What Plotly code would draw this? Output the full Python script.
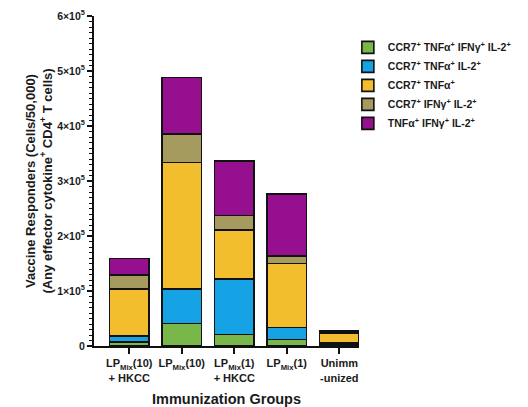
import plotly.graph_objects as go

categories = ["LP<sub>Mix</sub>(10)<br>+ HKCC", "LP<sub>Mix</sub>(10)", "LP<sub>Mix</sub>(1)<br>+ HKCC", "LP<sub>Mix</sub>(1)", "Unimm<br>-unized"]
series_names = [
    "CCR7<sup>+</sup> TNFα<sup>+</sup> IFNγ<sup>+</sup> IL-2<sup>+</sup>",
    "CCR7<sup>+</sup> TNFα<sup>+</sup> IL-2<sup>+</sup>",
    "CCR7<sup>+</sup> TNFα<sup>+</sup>",
    "CCR7<sup>+</sup> IFNγ<sup>+</sup> IL-2<sup>+</sup>",
    "TNFα<sup>+</sup> IFNγ<sup>+</sup> IL-2<sup>+</sup>",
]
ccr7_tnf_ifn_il2 = [7000, 41000, 21000, 12000, 2000]
ccr7_tnf_il2 = [11000, 63000, 101000, 22000, 3000]
ccr7_tnf = [86000, 230000, 89000, 116000, 19000]
ccr7_ifn_il2 = [25000, 51000, 26000, 14000, 1500]
tnf_ifn_il2 = [30000, 103000, 99000, 112000, 1500]
series_values = [ccr7_tnf_ifn_il2, ccr7_tnf_il2, ccr7_tnf, ccr7_ifn_il2, tnf_ifn_il2]
colors = ["#79B74A", "#16A3E6", "#F2BE2E", "#A59B5F", "#960F8E"]

ytick_vals = [0, 100000, 200000, 300000, 400000, 500000, 600000]
ytick_text = ["0", "1×10<sup>5</sup>", "2×10<sup>5</sup>", "3×10<sup>5</sup>", "4×10<sup>5</sup>", "5×10<sup>5</sup>", "6×10<sup>5</sup>"]

FONT = "Liberation Sans, Arial, sans-serif"

fig = go.Figure()
for i, (name, vals, col) in enumerate(zip(series_names, series_values, colors)):
    fig.add_trace(go.Bar(
        x=list(range(len(categories))), y=vals, name=name,
        marker=dict(color=col, line=dict(color="#111111", width=1.6)),
        width=0.75, legendgroup=f"g{i}",
    ))

fig.update_layout(
    barmode="stack",
    width=528, height=407,
    margin=dict(l=94, r=169, t=16, b=61, autoexpand=False),
    paper_bgcolor="white", plot_bgcolor="white",
    font=dict(family=FONT, color="#1a1a1a", size=10),
    showlegend=True,
    legend=dict(
        x=0.958, y=0.949, xanchor="left", yanchor="top",
        traceorder="normal", tracegroupgap=6,
        font=dict(family=FONT, size=10.5, color="#1a1a1a", weight="bold"),
        itemwidth=30,
    ),
    bargap=0.25,
)
fig.update_xaxes(
    range=[-0.67, 4.375], automargin=False,
    tickvals=list(range(len(categories))), ticktext=[f"<b>{c}</b>" for c in categories],
    showline=True, linecolor="#111111", linewidth=2,
    ticks="outside", ticklen=6, tickwidth=2, tickcolor="#111111",
    tickfont=dict(family=FONT, size=11, color="#1a1a1a"),
    showgrid=False, zeroline=False,
    title=dict(text="<b>Immunization Groups</b>", font=dict(family=FONT, size=14.5, color="#1a1a1a"), standoff=12),
)
fig.update_yaxes(
    range=[0, 600000], automargin=False,
    tickvals=ytick_vals, ticktext=[f"<b>{t}</b>" for t in ytick_text],
    showline=True, linecolor="#111111", linewidth=2,
    ticks="outside", ticklen=5, tickwidth=2, tickcolor="#111111",
    tickfont=dict(family=FONT, size=10.5, color="#1a1a1a"),
    minor=dict(dtick=10000, ticks="outside", ticklen=3, tickwidth=1.3, tickcolor="#111111", showgrid=False),
    showgrid=False, zeroline=False,
    title=dict(text="<b>Vaccine Responders (Cells/50,000)<br>(Any effector cytokine<sup>+</sup> CD4<sup>+</sup> T cells)</b>",
               font=dict(family=FONT, size=13, color="#1a1a1a"), standoff=2),
)

fig.write_html("out.html", config={"displayModeBar": False},
               post_script="document.body.style.margin='0';document.body.style.overflow='hidden';")
